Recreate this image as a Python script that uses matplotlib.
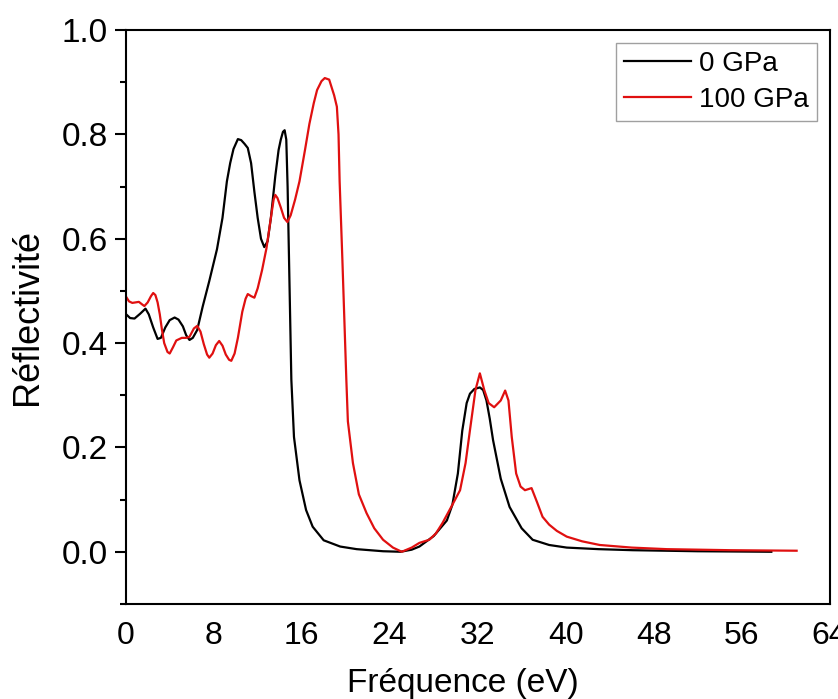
import matplotlib
matplotlib.use('Agg')
import matplotlib.pyplot as plt
from matplotlib.ticker import MultipleLocator, FormatStrFormatter

plt.rcParams['font.family'] = ['Liberation Sans', 'DejaVu Sans']

# 0 GPa
x0 = [0, 0.4, 0.8, 1.3, 1.8, 2.1, 2.5, 2.9, 3.2, 3.6, 4.0, 4.45, 4.8, 5.2, 5.5, 5.8, 6.1, 6.5,
      7.0, 7.6, 8.3, 8.8, 9.2, 9.5, 9.8, 10.2, 10.5, 10.8, 11.1, 11.4, 11.7, 12.0, 12.3, 12.6,
      12.9, 13.2, 13.6, 13.9, 14.1, 14.3, 14.45, 14.6, 14.72, 14.85, 15.06, 15.3, 15.8, 16.4,
      17.0, 18.0, 19.5, 21.0, 23.4, 25.0, 26.0, 26.7, 28.0, 29.2, 29.7, 30.2, 30.6, 31.0,
      31.3, 31.7, 32.2, 32.5, 32.8, 33.1, 33.4, 34.1, 34.9, 36.0, 37.0, 38.5, 40.1, 43.0,
      46.1, 52.0, 58.7]
y0 = [0.456, 0.448, 0.447, 0.456, 0.466, 0.455, 0.43, 0.408, 0.41, 0.43, 0.444, 0.449, 0.445,
      0.432, 0.415, 0.406, 0.41, 0.425, 0.47, 0.519, 0.58, 0.64, 0.71, 0.745, 0.772, 0.791,
      0.789, 0.782, 0.774, 0.745, 0.69, 0.64, 0.60, 0.584, 0.595, 0.64, 0.72, 0.77, 0.79,
      0.805, 0.808, 0.79, 0.70, 0.56, 0.33, 0.22, 0.137, 0.08, 0.048, 0.022, 0.01, 0.005,
      0.001, 0.0, 0.004, 0.01, 0.03, 0.06, 0.09, 0.15, 0.232, 0.285, 0.303, 0.312, 0.315,
      0.31, 0.29, 0.255, 0.214, 0.14, 0.086, 0.045, 0.023, 0.013, 0.008, 0.005, 0.003, 0.001,
      0.0]

# 100 GPa
x1 = [0, 0.3, 0.6, 0.9, 1.2, 1.5, 1.7, 2.0, 2.3, 2.5, 2.7, 2.9, 3.1, 3.3, 3.5, 3.8, 4.0, 4.3,
      4.6, 5.1, 5.5, 5.8, 6.2, 6.5, 6.8, 7.1, 7.4, 7.6, 7.9, 8.2, 8.5, 8.8, 9.1, 9.4, 9.6,
      9.9, 10.2, 10.6, 10.9, 11.1, 11.4, 11.7, 12.0, 12.4, 12.8, 13.2, 13.45, 13.6, 13.8,
      14.1, 14.4, 14.7, 15.0, 15.4, 15.8, 16.3, 16.7, 17.1, 17.4, 17.8, 18.1, 18.5, 18.95,
      19.2, 19.35, 19.45, 19.7, 20.06, 20.2, 20.66, 21.2, 21.9, 22.6, 23.4, 24.3, 25.1,
      26.0, 26.7, 27.6, 28.2, 28.8, 29.7, 30.4, 30.9, 31.3, 31.8, 32.2, 32.6, 33.0, 33.5,
      34.1, 34.5, 34.8, 35.1, 35.5, 35.9, 36.3, 36.9, 37.4, 37.9, 38.5, 39.2, 40.1, 41.5,
      43.1, 46.0, 49.2, 55.0, 61.0]
y1 = [0.49, 0.48, 0.477, 0.478, 0.479, 0.474, 0.471, 0.478, 0.49, 0.496, 0.492, 0.478, 0.455,
      0.425, 0.40, 0.383, 0.38, 0.392, 0.405, 0.41, 0.41, 0.412, 0.428, 0.433, 0.422, 0.398,
      0.378, 0.372, 0.38, 0.396, 0.404, 0.395, 0.378, 0.368, 0.366, 0.38, 0.41, 0.46, 0.485,
      0.494, 0.49, 0.487, 0.505, 0.54, 0.582, 0.64, 0.675, 0.684, 0.678, 0.66, 0.64, 0.632,
      0.645, 0.675, 0.71, 0.77, 0.82, 0.86, 0.885, 0.902, 0.908, 0.905, 0.875, 0.853, 0.80,
      0.71, 0.56, 0.33, 0.25, 0.17, 0.11, 0.074, 0.045, 0.023, 0.008, 0.0, 0.008, 0.017,
      0.023, 0.035, 0.055, 0.09, 0.118, 0.17, 0.233, 0.31, 0.342, 0.31, 0.285, 0.277, 0.29,
      0.309, 0.29, 0.22, 0.15, 0.125, 0.118, 0.122, 0.095, 0.067, 0.052, 0.04, 0.029, 0.02,
      0.013, 0.008, 0.005, 0.003, 0.002]

fig = plt.figure(figsize=(8.38, 6.99), dpi=100)
ax = fig.add_axes([0.150, 0.136, 0.840, 0.821])

ax.plot(x0, y0, color='black', lw=1.6, label='0 GPa')
ax.plot(x1, y1, color='#e01010', lw=1.6, label='100 GPa')

ax.set_xlim(0, 64)
ax.set_ylim(-0.1, 1.0)
ax.xaxis.set_major_locator(MultipleLocator(8))
ax.yaxis.set_major_locator(MultipleLocator(0.2))
ax.yaxis.set_minor_locator(MultipleLocator(0.1))
ax.yaxis.set_major_formatter(FormatStrFormatter('%.1f'))
ax.tick_params(axis='y', which='major', direction='out', length=8, width=1.5, labelsize=24, pad=5)
ax.tick_params(axis='y', which='minor', direction='out', length=4, width=1.5)
ax.tick_params(axis='x', which='both', length=0, labelsize=23, pad=12)
for s in ax.spines.values():
    s.set_linewidth(1.5)

ax.set_xlabel('Fréquence (eV)', fontsize=24)
ax.xaxis.set_label_coords(0.479, -0.112)
ax.set_ylabel('Réflectivité', fontsize=26, labelpad=12)

leg = ax.legend(loc='upper right', fontsize=20, frameon=True, fancybox=False,
                handlelength=2.4, handletextpad=0.3, borderpad=0.3, labelspacing=0.35,
                borderaxespad=0.45)
leg.get_frame().set_edgecolor('#888888')
leg.get_frame().set_linewidth(1.0)

fig.savefig('out.png', dpi=100)
